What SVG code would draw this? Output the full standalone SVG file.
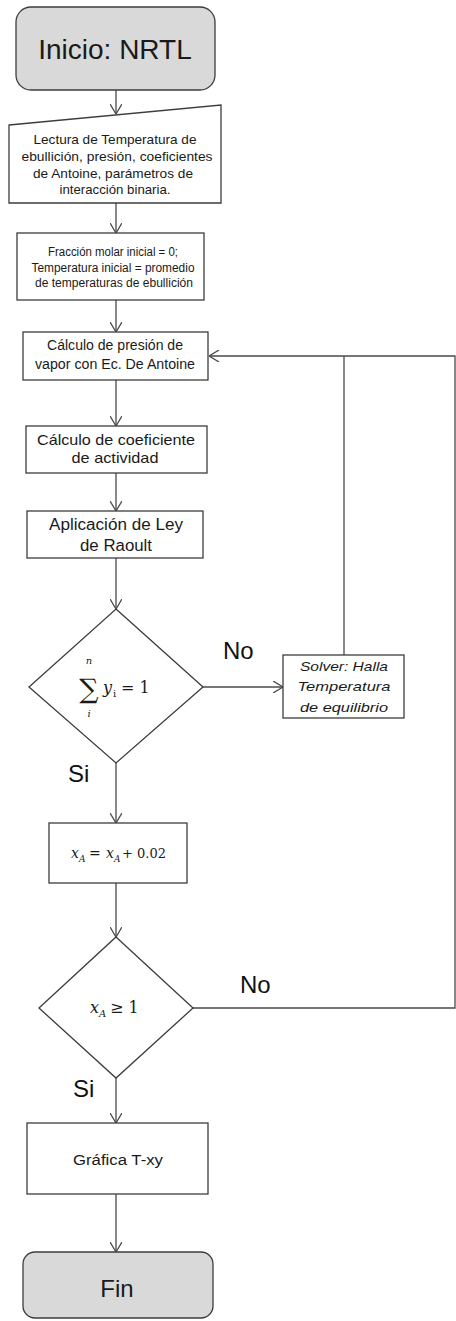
<svg xmlns="http://www.w3.org/2000/svg" width="456" height="1321" viewBox="0 0 456 1321">
<style>
.box{fill:#fff;stroke:#3c3c3c;stroke-width:1.3}
.term{fill:#d9d9d9;stroke:#3c3c3c;stroke-width:1.3}
.ln{fill:none;stroke:#4a4a4a;stroke-width:1.3}
.t{font-family:"Liberation Sans",Arial,sans-serif;fill:#1a1a1a;text-anchor:middle}
.it{font-style:italic}
.m{font-family:"DejaVu Serif","Liberation Serif",serif;fill:#1a1a1a}
.lbl{font-family:"Liberation Sans",Arial,sans-serif;fill:#111;font-size:24px}
</style>
<defs>
<marker id="ah" viewBox="0 0 10 12" refX="10" refY="6" markerWidth="10" markerHeight="12" markerUnits="userSpaceOnUse" orient="auto">
<path d="M0,0 L10,6 L0,12" fill="none" stroke="#4a4a4a" stroke-width="1.3"/>
</marker>
</defs>
<rect width="456" height="1321" fill="#fff"/>

<g id="connectors">
<line class="ln" x1="116" y1="90" x2="116" y2="114" marker-end="url(#ah)"/>
<line class="ln" x1="116" y1="203" x2="116" y2="233" marker-end="url(#ah)"/>
<line class="ln" x1="116" y1="300" x2="116" y2="332" marker-end="url(#ah)"/>
<line class="ln" x1="116" y1="380" x2="116" y2="426" marker-end="url(#ah)"/>
<line class="ln" x1="116" y1="473" x2="116" y2="511" marker-end="url(#ah)"/>
<line class="ln" x1="116" y1="558" x2="116" y2="609" marker-end="url(#ah)"/>
<line class="ln" x1="203" y1="687" x2="283" y2="687" marker-end="url(#ah)"/>
<polyline class="ln" points="344,655 344,356"/>
<polyline class="ln" points="193,1008 455,1008 455,356 209,356" marker-end="url(#ah)"/>
<line class="ln" x1="116" y1="763" x2="116" y2="823" marker-end="url(#ah)"/>
<line class="ln" x1="116" y1="883" x2="116" y2="937" marker-end="url(#ah)"/>
<line class="ln" x1="116" y1="1078" x2="116" y2="1123" marker-end="url(#ah)"/>
<line class="ln" x1="116" y1="1194" x2="116" y2="1252" marker-end="url(#ah)"/>
<text class="lbl" x="223" y="659">No</text>
<text class="lbl" x="68" y="782">Si</text>
<text class="lbl" x="240" y="993">No</text>
<text class="lbl" x="73" y="1097">Si</text>
</g>

<g id="start">
<rect class="term" x="16" y="7" width="199" height="83" rx="15"/>
<text class="t" x="115" y="59" font-size="28">Inicio: NRTL</text>
</g>

<g id="input">
<polygon class="box" points="9,125 221,105 221,203 9,203"/>
<text class="t" x="115" y="144" font-size="13" textLength="163" lengthAdjust="spacingAndGlyphs">Lectura de Temperatura de</text>
<text class="t" x="117" y="161" font-size="13" textLength="191" lengthAdjust="spacingAndGlyphs">ebullición, presión, coeficientes</text>
<text class="t" x="113" y="178" font-size="13" textLength="160" lengthAdjust="spacingAndGlyphs">de Antoine, parámetros de</text>
<text class="t" x="115" y="194" font-size="13" textLength="111" lengthAdjust="spacingAndGlyphs">interacción binaria.</text>
</g>

<g id="init">
<rect class="box" x="17" y="233" width="187" height="67"/>
<text class="t" x="113" y="256" font-size="12" textLength="130" lengthAdjust="spacingAndGlyphs">Fracción molar inicial = 0;</text>
<text class="t" x="113" y="272" font-size="12" textLength="163" lengthAdjust="spacingAndGlyphs">Temperatura inicial = promedio</text>
<text class="t" x="114" y="287" font-size="12" textLength="158" lengthAdjust="spacingAndGlyphs">de temperaturas de ebullición</text>
</g>

<g id="vapor">
<rect class="box" x="23" y="332" width="185" height="48"/>
<text class="t" x="115" y="350" font-size="14" textLength="136" lengthAdjust="spacingAndGlyphs">Cálculo de presión de</text>
<text class="t" x="115" y="369" font-size="14" textLength="160" lengthAdjust="spacingAndGlyphs">vapor con Ec. De Antoine</text>
</g>

<g id="actividad">
<rect class="box" x="26" y="426" width="181" height="47"/>
<text class="t" x="116" y="445" font-size="15" textLength="158" lengthAdjust="spacingAndGlyphs">Cálculo de coeficiente</text>
<text class="t" x="115" y="463" font-size="15" textLength="87" lengthAdjust="spacingAndGlyphs">de actividad</text>
</g>

<g id="raoult">
<rect class="box" x="27" y="511" width="176" height="47"/>
<text class="t" x="116" y="530" font-size="16" textLength="134" lengthAdjust="spacingAndGlyphs">Aplicación de Ley</text>
<text class="t" x="116" y="551" font-size="16" textLength="72" lengthAdjust="spacingAndGlyphs">de Raoult</text>
</g>

<g id="decision1">
<polygon class="box" points="116,609 203,687 116,763 29,687"/>
<text class="m" x="89" y="664" font-size="10" font-style="italic" text-anchor="middle">n</text>
<text class="m" x="89" y="698" font-size="27" text-anchor="middle">∑</text>
<text class="m" x="89" y="717" font-size="10" font-style="italic" text-anchor="middle">i</text>
<text class="m" x="103" y="693" font-size="16" font-style="italic">y</text>
<text class="m" x="113" y="697" font-size="10">i</text>
<text class="m" x="121" y="693" font-size="16">= 1</text>
</g>

<g id="solver">
<rect class="box" x="283" y="655" width="121" height="63"/>
<text class="t it" x="344" y="671" font-size="13" textLength="88" lengthAdjust="spacingAndGlyphs">Solver: Halla</text>
<text class="t it" x="344" y="691" font-size="13" textLength="93" lengthAdjust="spacingAndGlyphs">Temperatura</text>
<text class="t it" x="344" y="712" font-size="13" textLength="88" lengthAdjust="spacingAndGlyphs">de equilibrio</text>
</g>

<g id="increment">
<rect class="box" x="49" y="823" width="138" height="60"/>
<text class="m" x="71" y="858" font-size="14" font-style="italic">x</text>
<text class="m" x="79" y="862" font-size="9" font-style="italic">A</text>
<text class="m" x="89" y="858" font-size="14">=</text>
<text class="m" x="106" y="858" font-size="14" font-style="italic">x</text>
<text class="m" x="114" y="862" font-size="9" font-style="italic">A</text>
<text class="m" x="122" y="858" font-size="13" font-family="Liberation Sans">+ 0.02</text>
</g>

<g id="decision2">
<polygon class="box" points="116,937 193,1008 116,1078 39,1008"/>
<text class="m" x="90" y="1013" font-size="16" font-style="italic">x</text>
<text class="m" x="99" y="1017" font-size="10" font-style="italic">A</text>
<text class="m" x="110" y="1013" font-size="16">≥ 1</text>
</g>

<g id="grafica">
<rect class="box" x="27" y="1123" width="181" height="71"/>
<text class="t" x="118" y="1165" font-size="14" textLength="90" lengthAdjust="spacingAndGlyphs">Gráfica T-xy</text>
</g>

<g id="end">
<rect class="term" x="23" y="1252" width="190" height="66" rx="12"/>
<text class="t" x="117" y="1297" font-size="24">Fin</text>
</g>
</svg>
